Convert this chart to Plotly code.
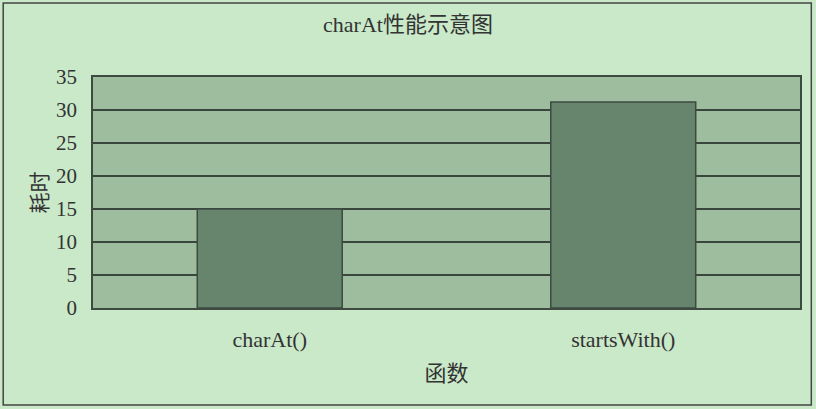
import plotly.graph_objects as go

categories = ["charAt()", "startsWith()"]
times = [15.0, 31.2]
y_ticks = [0, 5, 10, 15, 20, 25, 30, 35]

serif = "Liberation Serif, Noto Sans CJK SC, serif"
txt = "#333333"

fig = go.Figure(
    go.Bar(
        x=categories,
        y=times,
        width=0.41,
        marker=dict(color="#66856c", line=dict(color="#3c4a40", width=1.5)),
    )
)

fig.update_layout(
    width=816,
    height=409,
    margin=dict(l=93, r=16, t=77, b=101),
    paper_bgcolor="#c9e9c9",
    plot_bgcolor="#9dbd9e",
    showlegend=False,
    font=dict(family=serif, color=txt, size=21),
    title=dict(
        text="charAt性能示意图",
        x=0.5,
        xref="container",
        xanchor="center",
        y=0.94,
        yanchor="middle",
        font=dict(family=serif, size=22, color=txt),
    ),
    shapes=[
        dict(
            type="rect",
            xref="paper",
            yref="paper",
            x0=-0.127,
            x1=1.016,
            y0=-0.42,
            y1=1.32,
            line=dict(color="#444444", width=1.5),
            fillcolor="rgba(0,0,0,0)",
            layer="below",
        )
    ],
)

fig.update_xaxes(
    showgrid=False,
    showline=True,
    linecolor="#3c4a40",
    linewidth=1.5,
    mirror=True,
    ticks="",
    ticklabelstandoff=11,
    tickfont=dict(family=serif, size=22, color=txt),
    title=dict(text="函数", standoff=14, font=dict(family=serif, size=22, color=txt)),
)
fig.update_yaxes(
    range=[0, 35],
    tickvals=y_ticks,
    showgrid=True,
    gridcolor="#3a463c",
    gridwidth=1.5,
    showline=True,
    linecolor="#3c4a40",
    linewidth=1.5,
    mirror=True,
    ticks="",
    ticklabelstandoff=10,
    tickfont=dict(family=serif, size=21, color=txt),
    title=dict(text="耗时", standoff=3, font=dict(family=serif, size=21, color=txt)),
    zeroline=False,
)

fig.write_html(
    "out.html",
    config={"displayModeBar": False},
    post_script="document.body.style.margin='0';document.body.style.background='#c9e9c9';",
)
